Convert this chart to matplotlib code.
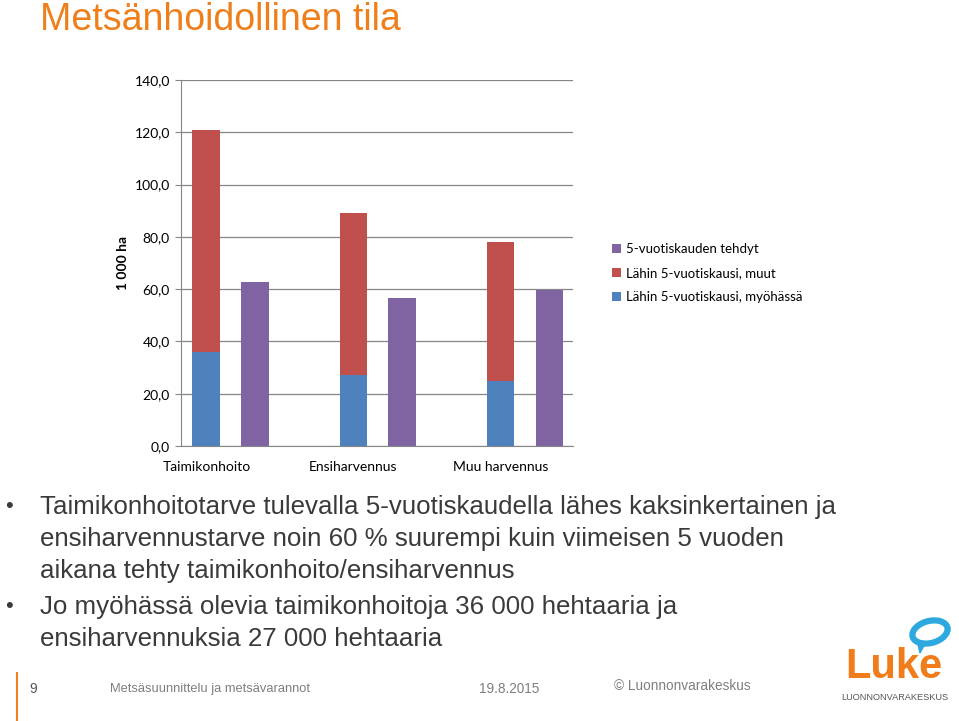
import matplotlib
matplotlib.use("Agg")
import matplotlib.pyplot as plt
from matplotlib.patches import Ellipse, Polygon
import numpy as np

categories = ["Taimikonhoito", "Ensiharvennus", "Muu harvennus"]
myohassa = [36.0, 27.0, 25.0]          # Lähin 5-vuotiskausi, myöhässä
muut = [85.0, 62.3, 53.2]              # Lähin 5-vuotiskausi, muut
tehdyt = [62.6, 56.5, 59.7]            # 5-vuotiskauden tehdyt
yticks = [0, 20, 40, 60, 80, 100, 120, 140]

c_blue = "#4F81BD"
c_red = "#C0504D"
c_purple = "#8064A2"
orange = "#EE7F1A"

fig = plt.figure(figsize=(9.59, 7.21), dpi=100)
fig.patch.set_facecolor("white")

ax = fig.add_axes([181/959, 1-446/721, 392/959, 366/721])
x = np.arange(len(categories))
w = 0.19
ax.bar(x, myohassa, w, color=c_blue, label="Lähin 5-vuotiskausi, myöhässä", zorder=3)
ax.bar(x, muut, w, bottom=myohassa, color=c_red, label="Lähin 5-vuotiskausi, muut", zorder=3)
ax.bar(x + 0.333, tehdyt, w, color=c_purple, label="5-vuotiskauden tehdyt", zorder=3)

ax.set_xlim(-0.173, 2.493)
ax.set_ylim(0, 140)
ax.set_yticks(yticks)
ax.set_yticklabels([f"{v:.1f}".replace(".", ",") for v in yticks], fontsize=10, family="Lato")
ax.set_xticks(x)
ax.set_xticklabels(categories, fontsize=10, family="Lato")
ax.tick_params(axis="x", length=0, pad=11)
ax.tick_params(axis="y", length=4, color="#868686", pad=4)
ax.grid(axis="y", color="#868686", linewidth=0.9, zorder=0)
for s in ["top", "right"]:
    ax.spines[s].set_visible(False)
ax.spines["left"].set_color("#868686")
ax.spines["bottom"].set_color("#868686")
ax.set_ylabel("1 000 ha", fontsize=10, fontweight="bold", family="Lato", labelpad=4)

h, l = ax.get_legend_handles_labels()
order = [2, 1, 0]
leg = fig.legend([h[i] for i in order], [l[i] for i in order],
                 loc="center left", bbox_to_anchor=(600/959, 1-273/721),
                 frameon=False, prop={"family": "Lato", "size": 9.5},
                 handlelength=0.7, handleheight=0.7, handletextpad=0.4,
                 labelspacing=0.9)

# slide title
fig.text(40/959, 1-30/721, "Metsänhoidollinen tila", color=orange, fontsize=27,
         family="Liberation Sans", va="baseline", ha="left")

# bullets
txtcol = "#3A3A3A"
lines = [
    (505, True, "Taimikonhoitotarve tulevalla 5-vuotiskaudella lähes kaksinkertainen ja"),
    (537, False, "ensiharvennustarve noin 60 % suurempi kuin viimeisen 5 vuoden"),
    (569, False, "aikana tehty taimikonhoito/ensiharvennus"),
    (605, True, "Jo myöhässä olevia taimikonhoitoja 36 000 hehtaaria ja"),
    (637, False, "ensiharvennuksia 27 000 hehtaaria"),
]
for yy, bullet, txt in lines:
    if bullet:
        fig.text(5/959, 1-(yy+2)/721, "•", fontsize=16, family="Liberation Sans",
                 va="center", ha="left", color=txtcol)
    fig.text(40/959, 1-(yy+2)/721, txt, fontsize=18.6, family="Liberation Sans",
             va="center", ha="left", color=txtcol)

# footer
fig.add_artist(plt.Line2D([17/959, 17/959], [0, 1-673/721], color=orange, lw=1.5))
fnt = "Liberation Sans"
fig.text(29/959, 1-689/721, "9", fontsize=10, color="#555555", va="center", family=fnt)
fig.text(110/959, 1-689/721, "Metsäsuunnittelu ja metsävarannot", fontsize=9.3,
         color="#7F7F7F", va="center", family=fnt)
fig.text(479/959, 1-689/721, "19.8.2015", fontsize=9.8, color="#7F7F7F",
         va="center", family=fnt)
fig.text(614/959, 1-686/721, "© Luonnonvarakeskus", fontsize=9.8, color="#7F7F7F",
         va="center", family=fnt)

# logo
fig.text(894/959, 1-667/721, "Luke", fontsize=30, color="#F07D1A", fontweight="bold",
         family="Liberation Sans", ha="center", va="center")
fig.text(895/959, 1-697/721, "LUONNONVARAKESKUS", fontsize=6.6, color="#555555",
         family="Liberation Sans", ha="center", va="center")
lax = fig.add_axes([900/959, 1-660/721, 60/959, 50/721])
lax.set_xlim(0, 60)
lax.set_ylim(0, 50)
lax.axis("off")
lax.add_patch(Ellipse((30, 28), 36, 22, angle=15, facecolor="none", edgecolor="#2DA9E0", lw=4.5))
lax.add_patch(Polygon([[17, 20], [20, 7], [26, 18]], closed=True, color="#2DA9E0"))

fig.savefig("out.png", dpi=100)
